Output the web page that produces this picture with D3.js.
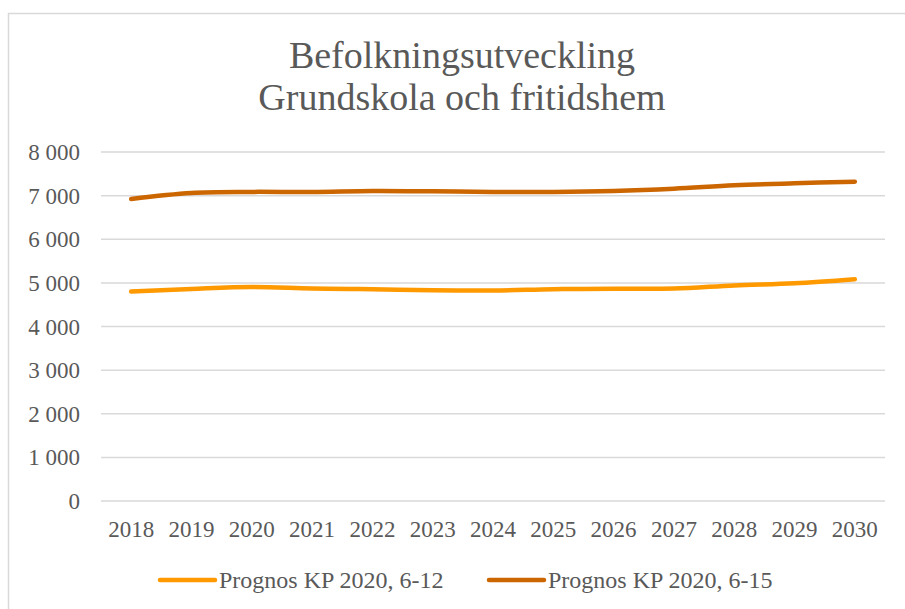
<!DOCTYPE html>
<html>
<head>
<meta charset="utf-8">
<script src="https://cdn.jsdelivr.net/npm/d3@7"></script>
<style>
  body { margin: 0; background: #fff; }
</style>
</head>
<body>
<svg id="chart" width="905" height="609"></svg>
<script>
var years = ["2018", "2019", "2020", "2021", "2022", "2023", "2024", "2025", "2026", "2027", "2028", "2029", "2030"];
var prognos612 = [4800, 4860, 4905, 4870, 4855, 4830, 4825, 4855, 4865, 4870, 4940, 4990, 5085];
var prognos615 = [6925, 7060, 7085, 7085, 7108, 7100, 7085, 7085, 7108, 7160, 7237, 7283, 7320];
var yTicks = [0, 1000, 2000, 3000, 4000, 5000, 6000, 7000, 8000];
var seriesNames = ["Prognos KP 2020, 6-12", "Prognos KP 2020, 6-15"];
var seriesColors = ["#ff9900", "#cc6600"];
var titleLines = ["Befolkningsutveckling", "Grundskola och fritidshem"];

var serif = "'Times New Roman', Times, 'Liberation Serif', serif";

var svg = d3.select("#chart")
  .attr("font-family", serif)
  .style("font-family", serif);

// chart frame
svg.append("rect")
  .attr("x", 8.5).attr("y", 13.5)
  .attr("width", 920).attr("height", 620)
  .attr("fill", "none")
  .attr("stroke", "#d9d9d9")
  .attr("stroke-width", 1.5);

var x = d3.scalePoint()
  .domain(years)
  .range([101, 885])
  .padding(0.5);

var y = d3.scaleLinear()
  .domain([0, 8000])
  .range([501, 152]);

var fmt = d3.formatLocale({ decimal: ",", thousands: " ", grouping: [3], currency: ["", ""] }).format(",");

// title
svg.append("text")
  .attr("text-anchor", "middle")
  .attr("font-size", 38)
  .attr("fill", "#595959")
  .style("font-family", serif)
  .selectAll("tspan")
  .data(titleLines)
  .enter()
  .append("tspan")
  .attr("x", 462)
  .attr("y", function(d, i) { return 68 + i * 42; })
  .text(function(d) { return d; });

// gridlines
svg.append("g")
  .selectAll("line")
  .data(yTicks)
  .enter()
  .append("line")
  .attr("x1", 101).attr("x2", 885)
  .attr("y1", function(d) { return y(d); })
  .attr("y2", function(d) { return y(d); })
  .attr("stroke", "#d9d9d9")
  .attr("stroke-width", 1.5);

// y labels
svg.append("g")
  .selectAll("text")
  .data(yTicks)
  .enter()
  .append("text")
  .attr("x", 80)
  .attr("y", function(d) { return y(d) + 8; })
  .attr("text-anchor", "end")
  .attr("font-size", 23)
  .attr("fill", "#595959")
  .style("font-family", serif)
  .text(function(d) { return fmt(d); });

// x labels
svg.append("g")
  .selectAll("text")
  .data(years)
  .enter()
  .append("text")
  .attr("x", function(d) { return x(d); })
  .attr("y", 537)
  .attr("text-anchor", "middle")
  .attr("font-size", 23)
  .attr("fill", "#595959")
  .style("font-family", serif)
  .text(function(d) { return d; });

var line = d3.line()
  .x(function(d, i) { return x(years[i]); })
  .y(function(d) { return y(d); })
  .curve(d3.curveCatmullRom);

[prognos612, prognos615].forEach(function(s, i) {
  svg.append("path")
    .datum(s)
    .attr("d", line)
    .attr("fill", "none")
    .attr("stroke", seriesColors[i])
    .attr("stroke-width", 4.5)
    .attr("stroke-linecap", "round")
    .attr("stroke-linejoin", "round");
});

// legend
var legendX = [160, 489];
var leg = svg.append("g")
  .selectAll("g")
  .data(seriesNames)
  .enter()
  .append("g")
  .attr("transform", function(d, i) { return "translate(" + legendX[i] + ",580)"; });

leg.append("line")
  .attr("x1", 0).attr("x2", 55)
  .attr("stroke", function(d, i) { return seriesColors[i]; })
  .attr("stroke-width", 4.5)
  .attr("stroke-linecap", "round");

leg.append("text")
  .attr("x", 59)
  .attr("y", 8)
  .attr("font-size", 24)
  .attr("fill", "#595959")
  .style("font-family", serif)
  .text(function(d) { return d; });
</script>
</body>
</html>
